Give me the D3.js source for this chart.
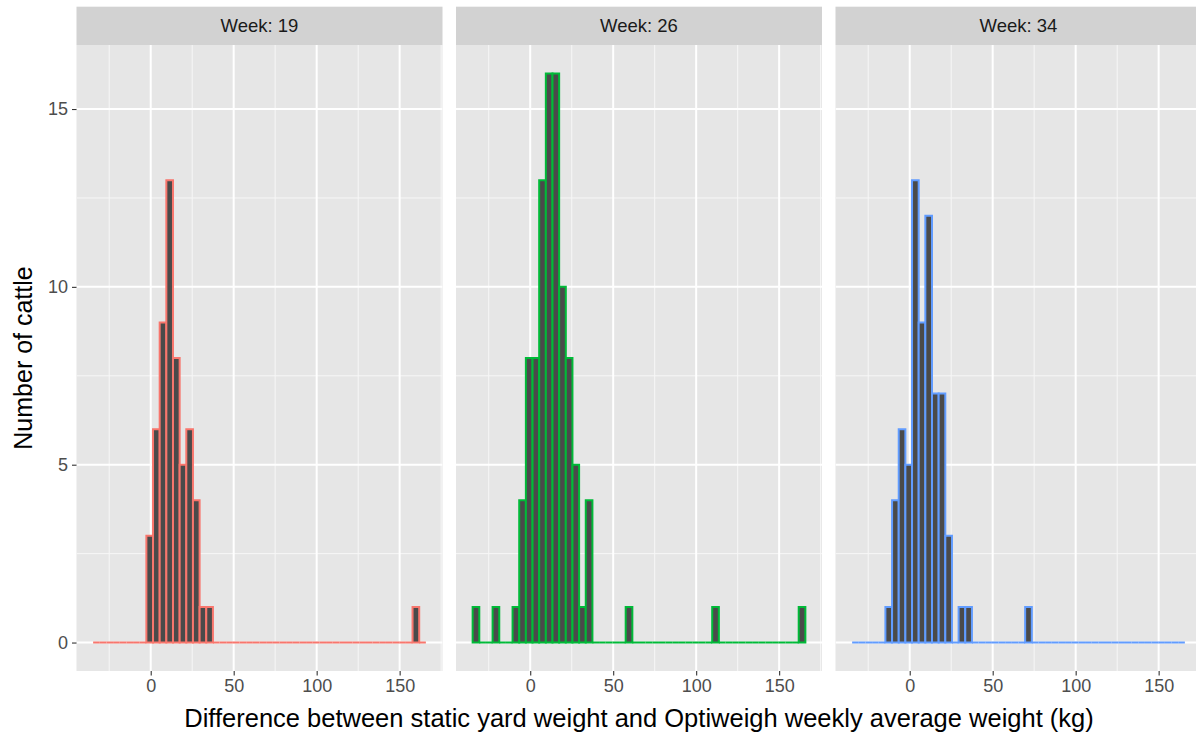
<!DOCTYPE html>
<html>
<head>
<meta charset="utf-8">
<script src="https://cdn.jsdelivr.net/npm/d3@7"></script>
<style>
    html, body { margin: 0; padding: 0; background: #ffffff; }
    svg { display: block; font-family: "Liberation Sans", Arial, Helvetica, sans-serif; }
</style>
</head>
<body>
<div id="chart"></div>
<script>
// Histogram bins (kg), shared by all facets
const BIN_START = -34.7;
const BIN_WIDTH = 4.01;

// Facet labels and outline colours
const weeks = ['19', '26', '34'];
const weekColors = ['#F8766D', '#00BA38', '#619CFF'];

// Counts per bin (50 bins), one array per week
const week19Counts = [
    0, 0, 0, 0, 0, 0, 0, 0, 3, 6,
    9, 13, 8, 5, 6, 4, 1, 1, 0, 0,
    0, 0, 0, 0, 0, 0, 0, 0, 0, 0,
    0, 0, 0, 0, 0, 0, 0, 0, 0, 0,
    0, 0, 0, 0, 0, 0, 0, 0, 1, 0
];
const week26Counts = [
    1, 0, 0, 1, 0, 0, 1, 4, 8, 8,
    13, 16, 16, 10, 8, 5, 1, 4, 0, 0,
    0, 0, 0, 1, 0, 0, 0, 0, 0, 0,
    0, 0, 0, 0, 0, 0, 1, 0, 0, 0,
    0, 0, 0, 0, 0, 0, 0, 0, 0, 1
];
const week34Counts = [
    0, 0, 0, 0, 0, 1, 4, 6, 5, 13,
    9, 12, 7, 7, 3, 0, 1, 1, 0, 0,
    0, 0, 0, 0, 0, 0, 1, 0, 0, 0,
    0, 0, 0, 0, 0, 0, 0, 0, 0, 0,
    0, 0, 0, 0, 0, 0, 0, 0, 0, 0
];
const allCounts = [week19Counts, week26Counts, week34Counts];

// Axis ticks
const xMajorTicks = [0, 50, 100, 150];
const xMinorTicks = [-25, 25, 75, 125, 175];
const yMajorTicks = [0, 5, 10, 15];
const yMinorTicks = [2.5, 7.5, 12.5];

const xTitle = 'Difference between static yard weight and Optiweigh weekly average weight (kg)';
const yTitle = 'Number of cattle';

// Layout
const WIDTH = 1196;
const HEIGHT = 733;
const PANEL_LEFT = 76.5;
const PANEL_WIDTH = 366;
const PANEL_GAP = 13.5;
const STRIP_TOP = 6.7;
const PANEL_TOP = 45;
const PANEL_BOTTOM = 671;

const svg = d3.select('#chart')
    .append('svg')
    .attr('width', WIDTH)
    .attr('height', HEIGHT);

// ggplot-style 5% expansion around the binned range
const nBins = week19Counts.length;
const binEnd = BIN_START + nBins * BIN_WIDTH;
const xPad = (binEnd - BIN_START) * 0.05;
const yMax = d3.max(allCounts, c => d3.max(c));
const yPad = yMax * 0.05;

const yScale = d3.scaleLinear()
    .domain([-yPad, yMax + yPad])
    .range([PANEL_BOTTOM, PANEL_TOP]);

function drawPanel(index) {
    const x0 = PANEL_LEFT + index * (PANEL_WIDTH + PANEL_GAP);
    const xScale = d3.scaleLinear()
        .domain([BIN_START - xPad, binEnd + xPad])
        .range([x0, x0 + PANEL_WIDTH]);

    const g = svg.append('g').attr('class', 'panel');

    // Strip
    g.append('rect')
        .attr('x', x0)
        .attr('y', STRIP_TOP)
        .attr('width', PANEL_WIDTH)
        .attr('height', PANEL_TOP - STRIP_TOP)
        .style('fill', '#D2D2D2');

    g.append('text')
        .attr('x', x0 + PANEL_WIDTH / 2)
        .attr('y', (STRIP_TOP + PANEL_TOP) / 2 + 6.5)
        .attr('text-anchor', 'middle')
        .style('font-size', '18.5px')
        .style('fill', '#1A1A1A')
        .text(`Week: ${weeks[index]}`);

    // Panel background
    g.append('rect')
        .attr('x', x0)
        .attr('y', PANEL_TOP)
        .attr('width', PANEL_WIDTH)
        .attr('height', PANEL_BOTTOM - PANEL_TOP)
        .style('fill', '#E6E6E6');

    // Grid lines
    const clipId = `clip-${index}`;
    g.append('clipPath')
        .attr('id', clipId)
        .append('rect')
        .attr('x', x0)
        .attr('y', PANEL_TOP)
        .attr('width', PANEL_WIDTH)
        .attr('height', PANEL_BOTTOM - PANEL_TOP);

    const grid = g.append('g').attr('clip-path', `url(#${clipId})`);

    grid.selectAll('.y-minor')
        .data(yMinorTicks)
        .join('line')
        .attr('x1', x0).attr('x2', x0 + PANEL_WIDTH)
        .attr('y1', d => yScale(d)).attr('y2', d => yScale(d))
        .style('stroke', '#F7F7F7').style('stroke-width', 1);

    grid.selectAll('.x-minor')
        .data(xMinorTicks)
        .join('line')
        .attr('x1', d => xScale(d)).attr('x2', d => xScale(d))
        .attr('y1', PANEL_TOP).attr('y2', PANEL_BOTTOM)
        .style('stroke', '#F7F7F7').style('stroke-width', 1);

    grid.selectAll('.y-major')
        .data(yMajorTicks)
        .join('line')
        .attr('x1', x0).attr('x2', x0 + PANEL_WIDTH)
        .attr('y1', d => yScale(d)).attr('y2', d => yScale(d))
        .style('stroke', '#FFFFFF').style('stroke-width', 2);

    grid.selectAll('.x-major')
        .data(xMajorTicks)
        .join('line')
        .attr('x1', d => xScale(d)).attr('x2', d => xScale(d))
        .attr('y1', PANEL_TOP).attr('y2', PANEL_BOTTOM)
        .style('stroke', '#FFFFFF').style('stroke-width', 2);

    // Bars: drawn as paths so empty bins still show their outline on the baseline
    const bins = allCounts[index].map((count, i) => ({
        x0: BIN_START + i * BIN_WIDTH,
        x1: BIN_START + (i + 1) * BIN_WIDTH,
        count
    }));

    g.append('g')
        .selectAll('path')
        .data(bins)
        .join('path')
        .attr('d', d => {
            const left = xScale(d.x0);
            const right = xScale(d.x1);
            const base = yScale(0);
            const top = yScale(d.count);
            return `M${left},${base}V${top}H${right}V${base}Z`;
        })
        .style('fill', '#4A4A4A')
        .style('stroke', weekColors[index])
        .style('stroke-width', 2)
        .style('stroke-linejoin', 'miter');

    // X axis
    const xAxis = d3.axisBottom(xScale)
        .tickValues(xMajorTicks)
        .tickSize(4.5)
        .tickPadding(4);

    g.append('g')
        .attr('transform', `translate(0,${PANEL_BOTTOM})`)
        .call(xAxis)
        .call(a => a.select('.domain').remove())
        .call(a => a.selectAll('line').style('stroke', '#333333').style('stroke-width', 1.1))
        .call(a => a.selectAll('text')
            .style('font-size', '18px')
            .style('fill', '#4D4D4D')
            .style('font-family', '"Liberation Sans", Arial, sans-serif'));
}

weeks.forEach((w, i) => drawPanel(i));

// Y axis on the first panel only
const yAxis = d3.axisLeft(yScale)
    .tickValues(yMajorTicks)
    .tickSize(4.5)
    .tickPadding(4);

svg.append('g')
    .attr('transform', `translate(${PANEL_LEFT},0)`)
    .call(yAxis)
    .call(a => a.select('.domain').remove())
    .call(a => a.selectAll('line').style('stroke', '#333333').style('stroke-width', 1.1))
    .call(a => a.selectAll('text')
        .style('font-size', '18px')
        .style('fill', '#4D4D4D')
        .style('font-family', '"Liberation Sans", Arial, sans-serif'));

// Axis titles
const panelsRight = PANEL_LEFT + 3 * PANEL_WIDTH + 2 * PANEL_GAP;

svg.append('text')
    .attr('x', (PANEL_LEFT + panelsRight) / 2)
    .attr('y', 727)
    .attr('text-anchor', 'middle')
    .style('font-size', '25.5px')
    .style('fill', '#000000')
    .text(xTitle);

svg.append('text')
    .attr('transform', `translate(32,${yScale(8)}) rotate(-90)`)
    .attr('text-anchor', 'middle')
    .style('font-size', '25px')
    .style('fill', '#000000')
    .text(yTitle);
</script>
</body>
</html>
